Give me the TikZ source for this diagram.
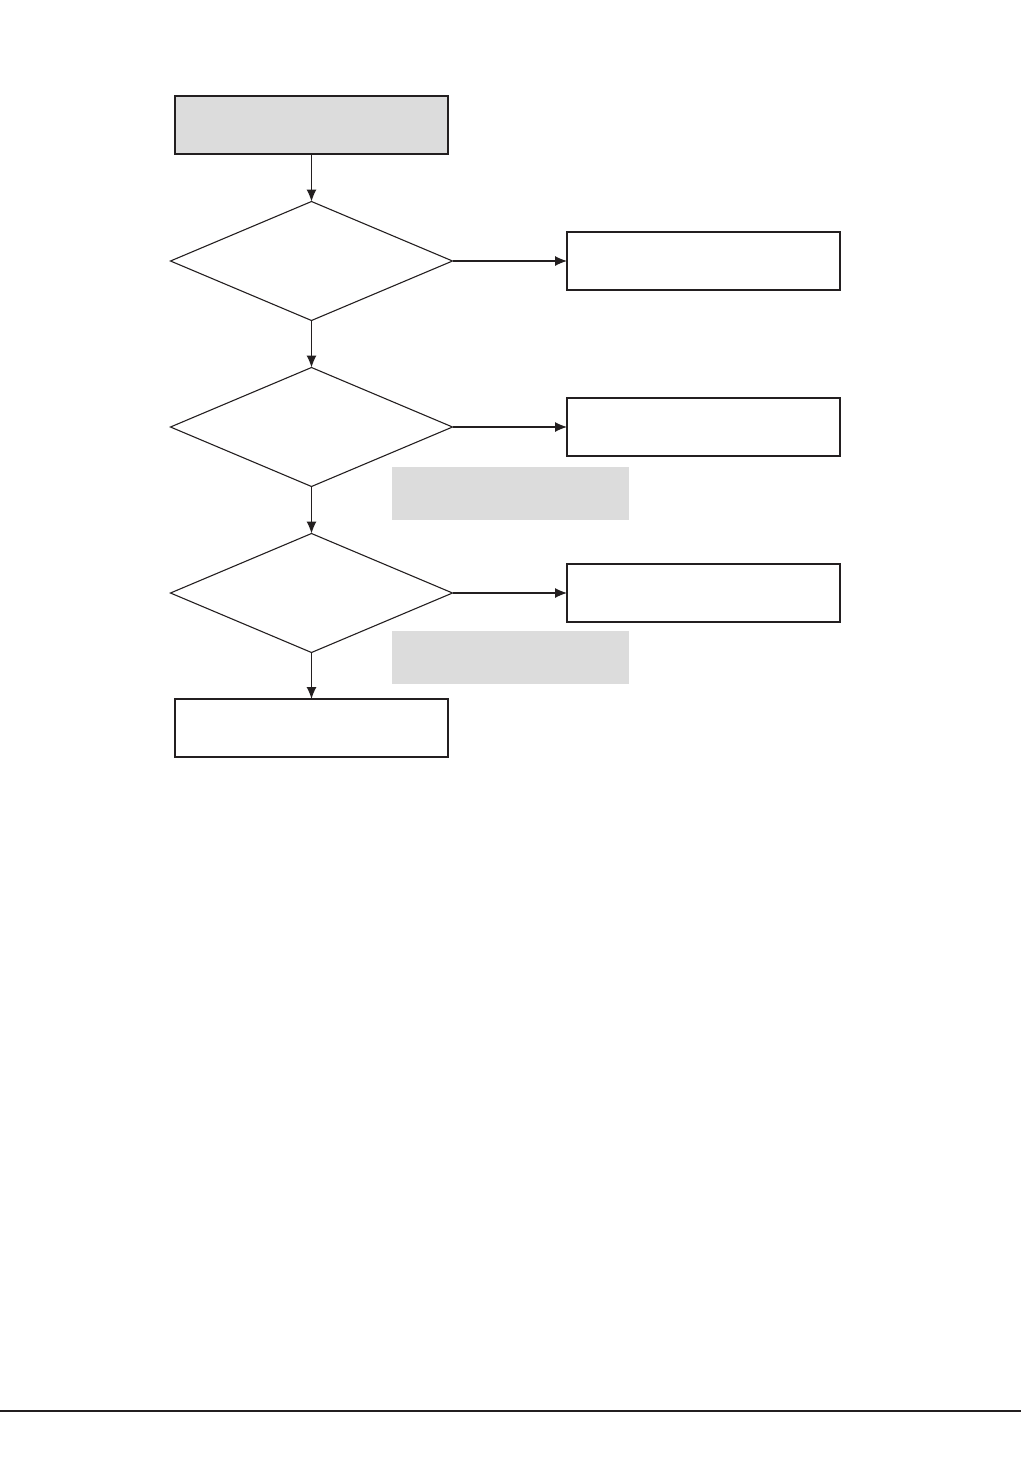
\documentclass[tikz,border=0pt]{standalone}
\usetikzlibrary{shapes.geometric,arrows.meta}
\definecolor{boxgray}{HTML}{DCDCDC}
\definecolor{ink}{HTML}{231F20}
\begin{document}
\begin{tikzpicture}[x=1pt,y=-1pt,
  box/.style={draw=ink,line width=1.1pt,minimum width=273pt,minimum height=58pt,inner sep=0pt,outer sep=0pt,anchor=north west},
  graybox/.style={box,fill=boxgray},
  note/.style={fill=boxgray,minimum width=237pt,minimum height=53pt,inner sep=0pt,outer sep=0pt,anchor=north west},
  decision/.style={diamond,draw=ink,line width=1.1pt,minimum width=282pt,minimum height=119pt,inner sep=0pt,outer sep=0pt},
  conn/.style={draw=ink,line width=1.1pt,-{Latex[length=12pt,width=10pt]}}]
\useasboundingbox (0,0) rectangle (1021,1457);
\node[graybox] (start) at (175,96) {};
\node[decision] (d1) at (311.5,261) {};
\node[decision] (d2) at (311.5,427) {};
\node[decision] (d3) at (311.5,593) {};
\node[box] (r1) at (567,232) {};
\node[box] (r2) at (567,398) {};
\node[box] (r3) at (567,564) {};
\node[note] (n1) at (392,467) {};
\node[note] (n2) at (392,631) {};
\node[box] (end) at (175,699) {};
\draw[conn] (start.south) -- (d1.north);
\draw[conn] (d1.south) -- (d2.north);
\draw[conn] (d2.south) -- (d3.north);
\draw[conn] (d3.south) -- (end.north);
\draw[conn] (d1.east) -- (r1.west);
\draw[conn] (d2.east) -- (r2.west);
\draw[conn] (d3.east) -- (r3.west);
\coordinate (fl) at (0,1411);
\coordinate (fr) at (1021,1411);
\draw[ink,line width=2pt] (fl) -- (fr);
\end{tikzpicture}
\end{document}
